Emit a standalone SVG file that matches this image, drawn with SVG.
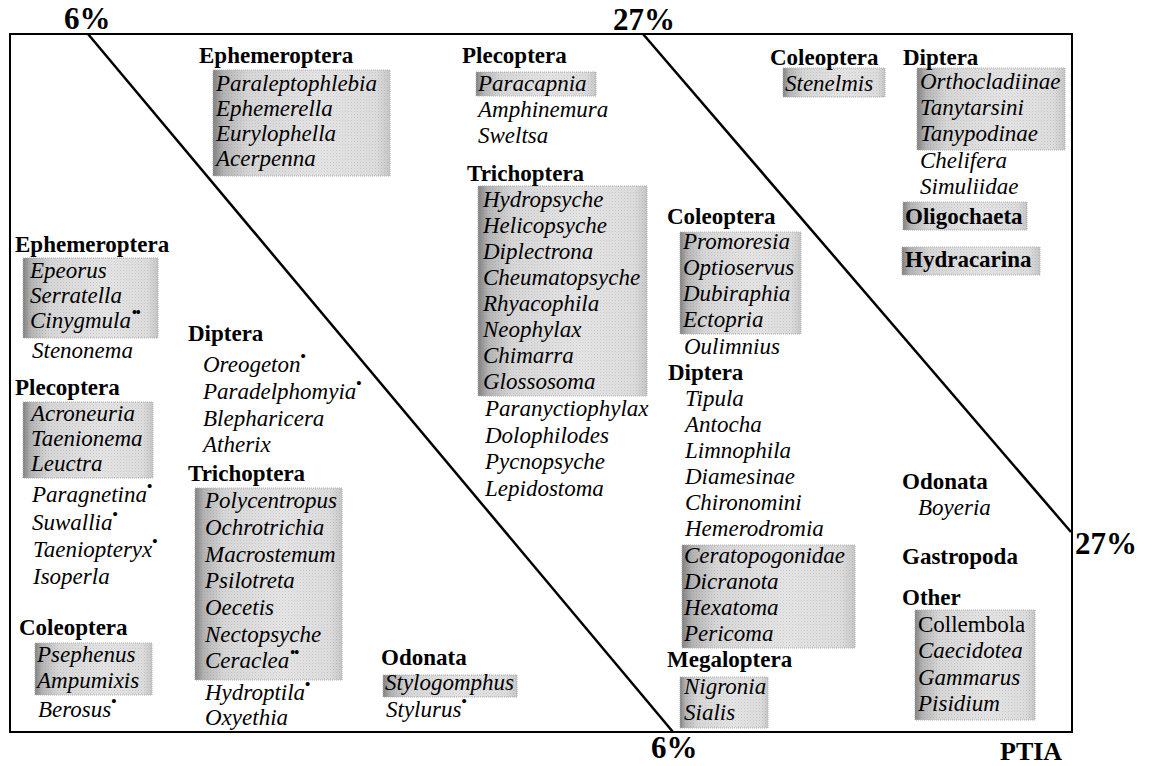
<svg xmlns="http://www.w3.org/2000/svg" width="1153" height="766" viewBox="0 0 1153 766">
<defs>
<linearGradient id="shade" x1="0" y1="0" x2="1" y2="0">
<stop offset="0" stop-color="#808080"/>
<stop offset="0.06" stop-color="#b4b4b4"/>
<stop offset="0.2" stop-color="#d8d8d8"/>
<stop offset="0.6" stop-color="#e6e6e6"/>
<stop offset="0.92" stop-color="#dedede"/>
<stop offset="1" stop-color="#c8c8c8"/>
</linearGradient>
<pattern id="dots" width="3" height="3" patternUnits="userSpaceOnUse">
<rect x="0" y="0" width="1" height="1" fill="#777"/>
<rect x="1.5" y="1.5" width="1" height="1" fill="#999"/>
</pattern>
<style>
text{font-family:"Liberation Serif","Times New Roman",serif;fill:#000;font-size:23px}
.h{font-weight:bold}
.i{font-style:italic}
.r{font-style:normal}
.pc{font-weight:bold;font-size:31px}
.ax{font-weight:bold;font-size:26px}
.s{font-size:15px;font-style:normal;font-weight:bold}
.ss{font-size:14px;font-style:normal;font-weight:bold;letter-spacing:-1px}
.box{fill:url(#shade);stroke:#b0b0b0;stroke-width:1;stroke-dasharray:1 1}
.tex{fill:url(#dots);opacity:0.25}
.frame{fill:none;stroke:#000;stroke-width:2}
.div{stroke:#000;stroke-width:2.5;fill:none}
</style>
</defs>
<rect width="1153" height="766" fill="#fff"/>

<g id="frame">
<rect class="frame" x="10" y="34" width="1062" height="698"/>
</g>

<g id="connectors">
<line class="div" x1="88" y1="34" x2="673" y2="732"/>
<line class="div" x1="643" y1="34" x2="1071" y2="532"/>
</g>

<g id="labels">
<text class="pc" x="64" y="29">6%</text>
<text class="pc" x="613" y="30">27%</text>
<text class="pc" x="651" y="758">6%</text>
<text class="pc" x="1075" y="554">27%</text>
<text class="ax" x="1000" y="760">PTIA</text>
</g>

<g id="left-ephemeroptera">
<rect class="box" x="23" y="258" width="135" height="80"/>
<rect class="tex" x="23" y="258" width="135" height="80"/>
<text class="h" x="15" y="252">Ephemeroptera</text>
<text class="i" x="30" y="278">Epeorus</text>
<text class="i" x="30" y="303">Serratella</text>
<text class="i" x="30" y="328">Cinygmula<tspan class="ss" dx="1" dy="-11">••</tspan></text>
<text class="i" x="32" y="358">Stenonema</text>
</g>

<g id="left-plecoptera">
<rect class="box" x="23" y="402" width="130" height="76"/>
<rect class="tex" x="23" y="402" width="130" height="76"/>
<text class="h" x="15" y="395">Plecoptera</text>
<text class="i" x="31" y="421">Acroneuria</text>
<text class="i" x="31" y="446">Taenionema</text>
<text class="i" x="31" y="471">Leuctra</text>
<text class="i" x="32" y="502">Paragnetina<tspan class="s" dx="0" dy="-11">•</tspan></text>
<text class="i" x="32" y="530">Suwallia<tspan class="s" dx="0" dy="-11">•</tspan></text>
<text class="i" x="33" y="557">Taeniopteryx<tspan class="s" dx="0" dy="-11">•</tspan></text>
<text class="i" x="33" y="584">Isoperla</text>
</g>

<g id="left-coleoptera">
<rect class="box" x="35" y="643" width="117" height="52"/>
<rect class="tex" x="35" y="643" width="117" height="52"/>
<text class="h" x="19" y="635">Coleoptera</text>
<text class="i" x="37" y="662">Psephenus</text>
<text class="i" x="37" y="688">Ampumixis</text>
<text class="i" x="38" y="717">Berosus<tspan class="s" dx="0" dy="-11">•</tspan></text>
</g>

<g id="mid-diptera">
<text class="h" x="188" y="341">Diptera</text>
<text class="i" x="203" y="372">Oreogeton<tspan class="s" dx="0" dy="-11">•</tspan></text>
<text class="i" x="203" y="399">Paradelphomyia<tspan class="s" dx="0" dy="-11">•</tspan></text>
<text class="i" x="203" y="426">Blepharicera</text>
<text class="i" x="203" y="452">Atherix</text>
</g>

<g id="mid-trichoptera">
<rect class="box" x="195" y="488" width="147" height="192"/>
<rect class="tex" x="195" y="488" width="147" height="192"/>
<text class="h" x="188" y="481">Trichoptera</text>
<text class="i" x="205" y="508">Polycentropus</text>
<text class="i" x="205" y="535">Ochrotrichia</text>
<text class="i" x="205" y="562">Macrostemum</text>
<text class="i" x="205" y="588">Psilotreta</text>
<text class="i" x="205" y="615">Oecetis</text>
<text class="i" x="205" y="642">Nectopsyche</text>
<text class="i" x="205" y="668">Ceraclea<tspan class="ss" dx="1" dy="-11">••</tspan></text>
<text class="i" x="205" y="700">Hydroptila<tspan class="s" dx="0" dy="-11">•</tspan></text>
<text class="i" x="205" y="725">Oxyethia</text>
</g>

<g id="mid-odonata">
<rect class="box" x="383" y="675" width="134" height="22"/>
<rect class="tex" x="383" y="675" width="134" height="22"/>
<text class="h" x="381" y="665">Odonata</text>
<text class="i" x="385" y="690">Stylogomphus</text>
<text class="i" x="386" y="717">Stylurus<tspan class="s" dx="0" dy="-11">•</tspan></text>
</g>

<g id="top-ephemeroptera">
<rect class="box" x="213" y="70" width="177" height="106"/>
<rect class="tex" x="213" y="70" width="177" height="106"/>
<text class="h" x="199" y="63">Ephemeroptera</text>
<text class="i" x="216" y="91">Paraleptophlebia</text>
<text class="i" x="216" y="116">Ephemerella</text>
<text class="i" x="216" y="141">Eurylophella</text>
<text class="i" x="216" y="166">Acerpenna</text>
</g>

<g id="top-plecoptera">
<rect class="box" x="476" y="72" width="120" height="24"/>
<rect class="tex" x="476" y="72" width="120" height="24"/>
<text class="h" x="462" y="63">Plecoptera</text>
<text class="i" x="478" y="91">Paracapnia</text>
<text class="i" x="478" y="117">Amphinemura</text>
<text class="i" x="478" y="143">Sweltsa</text>
</g>

<g id="top-trichoptera">
<rect class="box" x="478" y="186" width="169" height="210"/>
<rect class="tex" x="478" y="186" width="169" height="210"/>
<text class="h" x="467" y="181">Trichoptera</text>
<text class="i" x="483" y="207">Hydropsyche</text>
<text class="i" x="483" y="233">Helicopsyche</text>
<text class="i" x="483" y="259">Diplectrona</text>
<text class="i" x="483" y="285">Cheumatopsyche</text>
<text class="i" x="483" y="311">Rhyacophila</text>
<text class="i" x="483" y="337">Neophylax</text>
<text class="i" x="483" y="363">Chimarra</text>
<text class="i" x="483" y="389">Glossosoma</text>
<text class="i" x="485" y="416">Paranyctiophylax</text>
<text class="i" x="485" y="443">Dolophilodes</text>
<text class="i" x="485" y="469">Pycnopsyche</text>
<text class="i" x="485" y="496">Lepidostoma</text>
</g>

<g id="center-coleoptera">
<rect class="box" x="680" y="232" width="121" height="102"/>
<rect class="tex" x="680" y="232" width="121" height="102"/>
<text class="h" x="667" y="224">Coleoptera</text>
<text class="i" x="683" y="249">Promoresia</text>
<text class="i" x="683" y="275">Optioservus</text>
<text class="i" x="683" y="301">Dubiraphia</text>
<text class="i" x="683" y="327">Ectopria</text>
<text class="i" x="684" y="354">Oulimnius</text>
</g>

<g id="center-diptera">
<rect class="box" x="682" y="545" width="173" height="103"/>
<rect class="tex" x="682" y="545" width="173" height="103"/>
<text class="h" x="668" y="380">Diptera</text>
<text class="i" x="685" y="406">Tipula</text>
<text class="i" x="685" y="432">Antocha</text>
<text class="i" x="685" y="458">Limnophila</text>
<text class="i" x="685" y="484">Diamesinae</text>
<text class="i" x="685" y="510">Chironomini</text>
<text class="i" x="685" y="536">Hemerodromia</text>
<text class="i" x="684" y="563">Ceratopogonidae</text>
<text class="i" x="684" y="589">Dicranota</text>
<text class="i" x="684" y="615">Hexatoma</text>
<text class="i" x="684" y="641">Pericoma</text>
</g>

<g id="center-megaloptera">
<rect class="box" x="680" y="677" width="88" height="51"/>
<rect class="tex" x="680" y="677" width="88" height="51"/>
<text class="h" x="667" y="667">Megaloptera</text>
<text class="i" x="684" y="694">Nigronia</text>
<text class="i" x="684" y="720">Sialis</text>
</g>

<g id="right-coleoptera">
<rect class="box" x="783" y="68" width="102" height="29"/>
<rect class="tex" x="783" y="68" width="102" height="29"/>
<text class="h" x="770" y="65">Coleoptera</text>
<text class="i" x="785" y="91">Stenelmis</text>
</g>

<g id="right-diptera">
<rect class="box" x="917" y="68" width="148" height="82"/>
<rect class="tex" x="917" y="68" width="148" height="82"/>
<text class="h" x="903" y="65">Diptera</text>
<text class="i" x="920" y="89">Orthocladiinae</text>
<text class="i" x="920" y="115">Tanytarsini</text>
<text class="i" x="920" y="141">Tanypodinae</text>
<text class="i" x="920" y="168">Chelifera</text>
<text class="i" x="920" y="194">Simuliidae</text>
</g>

<g id="right-oligochaeta">
<rect class="box" x="903" y="202" width="124" height="28"/>
<rect class="tex" x="903" y="202" width="124" height="28"/>
<text class="h" x="905" y="224">Oligochaeta</text>
</g>

<g id="right-hydracarina">
<rect class="box" x="902" y="247" width="138" height="28"/>
<rect class="tex" x="902" y="247" width="138" height="28"/>
<text class="h" x="905" y="267">Hydracarina</text>
</g>

<g id="right-odonata">
<text class="h" x="902" y="489">Odonata</text>
<text class="i" x="918" y="515">Boyeria</text>
</g>

<g id="right-gastropoda">
<text class="h" x="902" y="564">Gastropoda</text>
</g>

<g id="right-other">
<rect class="box" x="915" y="610" width="120" height="110"/>
<rect class="tex" x="915" y="610" width="120" height="110"/>
<text class="h" x="902" y="605">Other</text>
<text class="r" x="918" y="632">Collembola</text>
<text class="i" x="918" y="658">Caecidotea</text>
<text class="i" x="918" y="685">Gammarus</text>
<text class="i" x="918" y="711">Pisidium</text>
</g>
</svg>
